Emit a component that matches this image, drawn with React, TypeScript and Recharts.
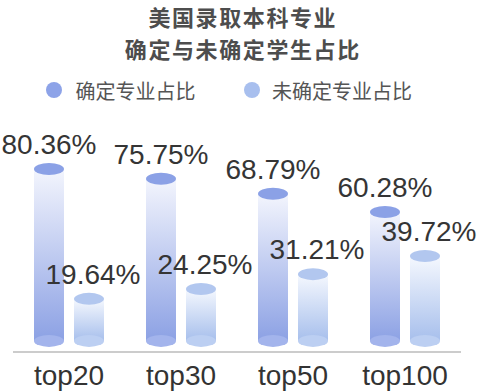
import { Bar, BarChart, LabelList, XAxis, YAxis } from "recharts";

const categories = ["top20", "top30", "top50", "top100"];
const decidedShare = [80.36, 75.75, 68.79, 60.28];
const undecidedShare = [19.64, 24.25, 31.21, 39.72];
const seriesNames = ["确定专业占比", "未确定专业占比"];
const titleLines = ["美国录取本科专业", "确定与未确定学生占比"];

const data = categories.map((name, i) => ({
  name,
  decided: decidedShare[i],
  undecided: undecidedShare[i],
}));

const palette = {
  decided: { top: "#8ba1e6", body0: "#f3f5fd", body1: "#8ca1e4", bottom: "#a3b4ec" },
  undecided: { top: "#b2c7ef", body0: "#f5f8fe", body1: "#a7bfec", bottom: "#bccff2" },
};

const RY = 6;

function makeCylinder(key: "decided" | "undecided") {
  const c = palette[key];
  return (props: any) => {
    const { x, y, width, height } = props;
    if (height == null || width == null) return null;
    const cx = x + width / 2;
    return (
      <g>
        <rect x={x} y={y} width={width} height={height} fill={`url(#grad-${key})`} />
        <ellipse cx={cx} cy={y + height} rx={width / 2} ry={RY} fill={c.bottom} />
        <ellipse cx={cx} cy={y} rx={width / 2} ry={RY} fill={c.top} />
      </g>
    );
  };
}

function makeLabel(dx: number) {
  return (props: any) => {
    const { x, y, width, value } = props;
    return (
      <text
        x={x + width / 2 + dx}
        y={y - 15}
        textAnchor="middle"
        fontFamily="'Liberation Sans', Arial, sans-serif"
        fontSize={28}
        fill="#353535"
      >
        {`${value.toFixed(2)}%`}
      </text>
    );
  };
}

function Header() {
  return (
    <>
      <div
        style={{
          position: "absolute",
          left: 0,
          top: 0,
          width: 484,
          paddingLeft: 1.6,
          boxSizing: "border-box",
          textAlign: "center",
          fontFamily: "'Noto Sans CJK SC', sans-serif",
          fontWeight: 700,
          fontSize: 22,
          letterSpacing: 1.6,
          lineHeight: "32px",
          color: "#4d4d4d",
        }}
      >
        {titleLines.map((t) => (
          <div key={t}>{t}</div>
        ))}
      </div>
      {seriesNames.map((n, i) => {
        const cx = i === 0 ? 53.5 : 252;
        const color = i === 0 ? "#8da3e8" : "#a8bfee";
        return (
          <div
            key={n}
            style={{
              position: "absolute",
              left: cx - 8,
              top: 75,
              height: 30,
              display: "flex",
              alignItems: "center",
              fontFamily: "'Noto Sans CJK SC', sans-serif",
              fontSize: 20,
              color: "#555",
            }}
          >
            <span
              style={{
                width: 16,
                height: 16,
                borderRadius: 8,
                background: color,
                marginRight: i === 0 ? 14 : 12,
                display: "inline-block",
              }}
            />
            {n}
          </div>
        );
      })}
    </>
  );
}

export default function App() {
  return (
    <div style={{ position: "absolute", left: 0, top: 0, width: 478, height: 392, background: "#fff" }}>
      <Header />
      <div style={{ position: "absolute", left: 0, top: 0 }}>
        <BarChart
          width={478}
          height={392}
          data={data}
          margin={{ top: 127, right: 17, bottom: 0, left: 13 }}
          barSize={30}
          barGap={10}
        >
          <defs>
            {(["decided", "undecided"] as const).map((k) => (
              <linearGradient key={k} id={`grad-${k}`} x1="0" y1="0" x2="0" y2="1">
                <stop offset="0%" stopColor={palette[k].body0} />
                <stop offset="100%" stopColor={palette[k].body1} />
              </linearGradient>
            ))}
          </defs>
          <XAxis
            dataKey="name"
            height={40}
            tickLine={false}
            tickSize={0}
            tickMargin={13}
            axisLine={{ stroke: "#cccccc", strokeWidth: 2 }}
            tick={{ fill: "#333", fontSize: 28, fontFamily: "'Liberation Sans', Arial, sans-serif" }}
          />
          <YAxis hide domain={[-5.2, 100]} />
          <Bar dataKey="decided" shape={makeCylinder("decided")} isAnimationActive={false}>
            <LabelList dataKey="decided" content={makeLabel(0)} />
          </Bar>
          <Bar dataKey="undecided" shape={makeCylinder("undecided")} isAnimationActive={false}>
            <LabelList dataKey="undecided" content={makeLabel(4)} />
          </Bar>
        </BarChart>
      </div>
    </div>
  );
}
